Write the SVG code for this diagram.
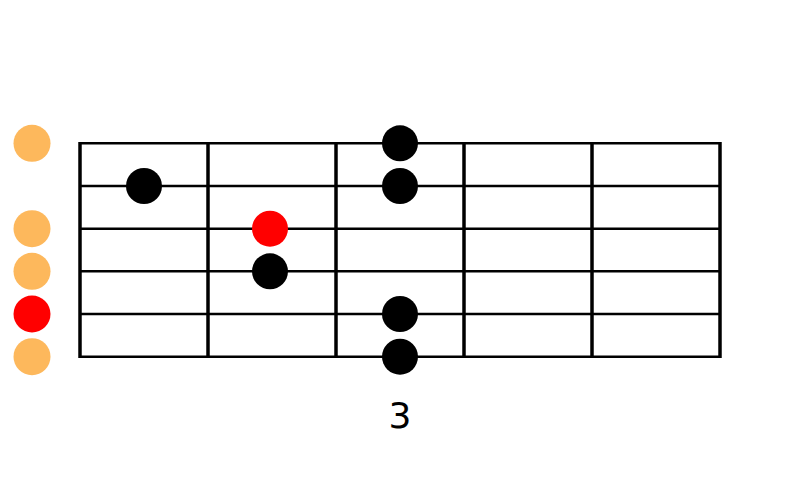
<svg xmlns="http://www.w3.org/2000/svg" width="800" height="500" viewBox="0 0 800 500">
<style>
.s{stroke:#000;stroke-width:2.5}
.f{stroke:#000;stroke-width:3.5}
.open{fill:#FDB85C}
.root{fill:#FF0000}
.note{fill:#000}
.lbl{font-family:"DejaVu Sans","Liberation Sans",sans-serif;font-size:36px;fill:#000;text-anchor:middle}
</style>
<rect width="800" height="500" fill="#fff"/>
<g id="grid">
<g id="strings">
<line class="s" x1="80" y1="143.3" x2="720" y2="143.3"/>
<line class="s" x1="80" y1="186" x2="720" y2="186"/>
<line class="s" x1="80" y1="228.7" x2="720" y2="228.7"/>
<line class="s" x1="80" y1="271.3" x2="720" y2="271.3"/>
<line class="s" x1="80" y1="314" x2="720" y2="314"/>
<line class="s" x1="80" y1="356.7" x2="720" y2="356.7"/>
</g>
<g id="frets">
<line class="f" x1="80" y1="142" x2="80" y2="358"/>
<line class="f" x1="208" y1="142" x2="208" y2="358"/>
<line class="f" x1="336" y1="142" x2="336" y2="358"/>
<line class="f" x1="464" y1="142" x2="464" y2="358"/>
<line class="f" x1="592" y1="142" x2="592" y2="358"/>
<line class="f" x1="720" y1="142" x2="720" y2="358"/>
</g>
</g>
<g id="open-strings">
<circle class="open" cx="32" cy="143.3" r="18.5"/>
<circle class="open" cx="32" cy="228.7" r="18.5"/>
<circle class="open" cx="32" cy="271.3" r="18.5"/>
<circle class="root" cx="32" cy="314" r="18.5"/>
<circle class="open" cx="32" cy="356.7" r="18.5"/>
</g>
<g id="notes">
<circle class="note" cx="144" cy="186" r="18"/>
<circle class="root" cx="270" cy="228.7" r="18"/>
<circle class="note" cx="270" cy="271.3" r="18"/>
<circle class="note" cx="400" cy="143.3" r="18"/>
<circle class="note" cx="400" cy="186" r="18"/>
<circle class="note" cx="400" cy="314" r="18"/>
<circle class="note" cx="400" cy="356.7" r="18"/>
</g>
<g id="fret-label">
<text class="lbl" x="400" y="428">3</text>
</g>
</svg>
